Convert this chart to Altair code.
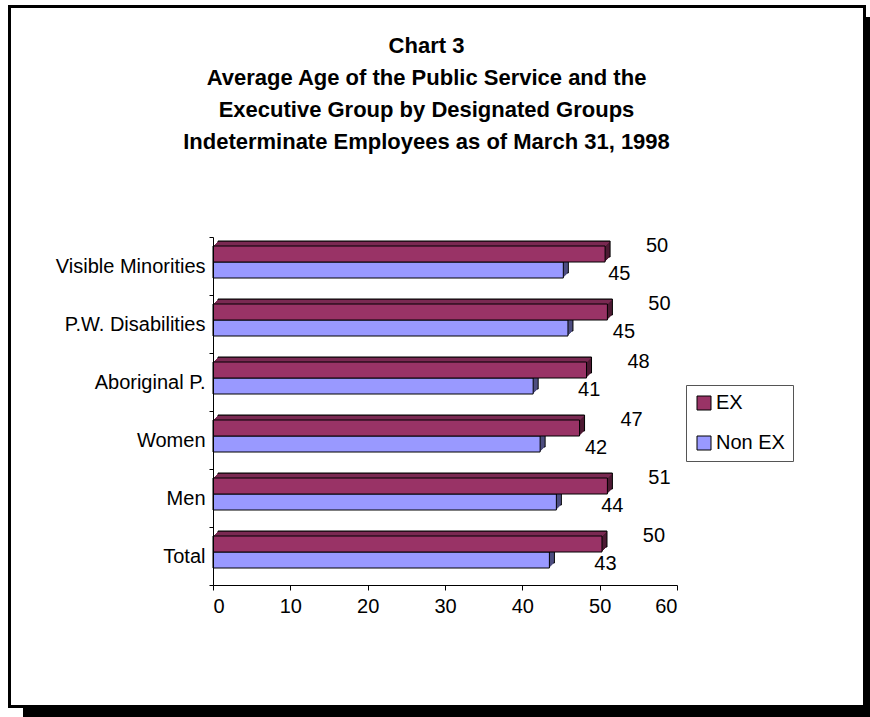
import altair as alt
import pandas as pd

# ---- data ----
categories = ["Visible Minorities", "P.W. Disabilities", "Aboriginal P.", "Women", "Men", "Total"]
ex_values = [50.7, 51.0, 48.3, 47.4, 51.0, 50.3]
nonex_values = [45.3, 45.9, 41.4, 42.3, 44.4, 43.5]
ex_labels = ["50", "50", "48", "47", "51", "50"]
nonex_labels = ["45", "45", "41", "42", "44", "43"]
series_names = ["EX", "Non EX"]
x_ticks = [0, 10, 20, 30, 40, 50, 60]
title_lines = [
    "Chart 3",
    "Average Age of the Public Service and the",
    "Executive Group by Designated Groups",
    "Indeterminate Employees as of March 31, 1998",
]

# colours: front, top face, side face
front_colors = {"EX": "#993366", "Non EX": "#9999FF"}
top_colors = {"EX": "#7A2952", "Non EX": "#7A7ACC"}
side_colors = {"EX": "#4D1A33", "Non EX": "#4D4D80"}

rows = []
for c, v, l in zip(categories, ex_values, ex_labels):
    rows.append({"category": c, "series": "EX", "value": v, "label": l})
for c, v, l in zip(categories, nonex_values, nonex_labels):
    rows.append({"category": c, "series": "Non EX", "value": v, "label": l})
df = pd.DataFrame(rows)

FONT = "Liberation Sans"
W, H = 464, 348
PAD = {"left": 213, "top": 237, "right": 870 - 213 - W, "bottom": 717 - 237 - H}

x_enc = alt.X(
    "value:Q",
    scale=alt.Scale(domain=[0, 60], nice=False, zero=True),
    axis=alt.Axis(values=x_ticks, title=None, labelFontSize=20, labelFont=FONT,
                  labelColor="#000", domainColor="#000", tickColor="#000",
                  tickSize=5, labelPadding=6, grid=False, zindex=1, format="d"),
)
y_enc = alt.Y(
    "category:N",
    sort=categories,
    scale=alt.Scale(paddingInner=0, paddingOuter=0),
    axis=alt.Axis(title=None, labelFontSize=20, labelFont=FONT, labelColor="#000",
                  domainColor="#000", tickColor="#000", tickSize=4, labelPadding=4,
                  tickBand="extent", grid=False, zindex=1),
)

BAR_H = 16
DEPTH = 5
base_offset = {"EX": -12, "Non EX": 4}

one = pd.DataFrame({"a": [0]})
layers = []

# frame with shadow
layers.append(
    alt.Chart(one).mark_rect(color="#000").encode(
        x=alt.value(23 - 213), x2=alt.value(870 - 213),
        y=alt.value(17 - 237), y2=alt.value(717 - 237))
)
layers.append(
    alt.Chart(one).mark_rect(fill="#FFFFFF", stroke="#000", strokeWidth=3).encode(
        x=alt.value(9.5 - 213), x2=alt.value(864.5 - 213),
        y=alt.value(6.5 - 237), y2=alt.value(706.5 - 237))
)
# title (first line centred at y=45)
layers.append(
    alt.Chart(one).mark_text(
        text=title_lines, font=FONT, fontSize=22, fontWeight="bold", color="#000",
        align="center", baseline="middle", lineHeight=32,
    ).encode(x=alt.value(426.5 - 213), y=alt.value(46 - 237))
)

for s in ["Non EX", "EX"]:
    b = base_offset[s]
    src = alt.Chart(df).transform_filter(alt.datum.series == s)
    # back face (outlined) then side fill
    layers.append(src.mark_bar(height=BAR_H, xOffset=DEPTH, yOffset=b - DEPTH,
                               fill=side_colors[s], stroke="#000", strokeWidth=1)
                  .encode(x=x_enc, y=y_enc))
    for k in range(1, DEPTH):
        layers.append(src.mark_bar(height=BAR_H, xOffset=k, yOffset=b - k,
                                   fill=side_colors[s], strokeWidth=0)
                      .encode(x=x_enc, y=y_enc))
    # top face rows
    for k in range(1, DEPTH):
        layers.append(src.mark_bar(height=1, xOffset=k, yOffset=b - BAR_H / 2 - k + 0.5,
                                   fill=top_colors[s], strokeWidth=0)
                      .encode(x=x_enc, y=y_enc))
    # front face
    layers.append(src.mark_bar(height=BAR_H, yOffset=b, stroke="#000", strokeWidth=1,
                               opacity=1)
                  .encode(x=x_enc, y=y_enc,
                          color=alt.Color("series:N",
                                          scale=alt.Scale(domain=series_names,
                                                          range=[front_colors["EX"], front_colors["Non EX"]]),
                                          legend=alt.Legend(
                                              title=None, orient="none", legendX=473, legendY=148,
                                              symbolType="square", symbolSize=196,
                                              symbolStrokeColor="#000", symbolStrokeWidth=1,
                                              symbolOpacity=1,
                                              labelFontSize=20, labelFont=FONT, labelColor="#000",
                                              labelOffset=2, rowPadding=20, padding=8,
                                              strokeColor="#555", fillColor="#FFFFFF",
                                              zindex=1))))

# value labels
label_dx = {"EX": 52, "Non EX": 56}
label_dy = {"EX": -20, "Non EX": 8}
for s in ["Non EX", "EX"]:
    layers.append(
        alt.Chart(df).transform_filter(alt.datum.series == s)
        .mark_text(font=FONT, fontSize=20, color="#000", align="center", baseline="middle",
                   dx=label_dx[s], dy=label_dy[s])
        .encode(x=x_enc, y=y_enc, text="label:N")
    )

chart = alt.layer(*layers).properties(
    width=W, height=H,
    padding=PAD,
    autosize=alt.AutoSizeParams(type="none"),
    background="#FFFFFF",
).configure_view(stroke=None).configure(font=FONT)

chart.save("out.html", embed_options={"renderer": "svg", "actions": False})
